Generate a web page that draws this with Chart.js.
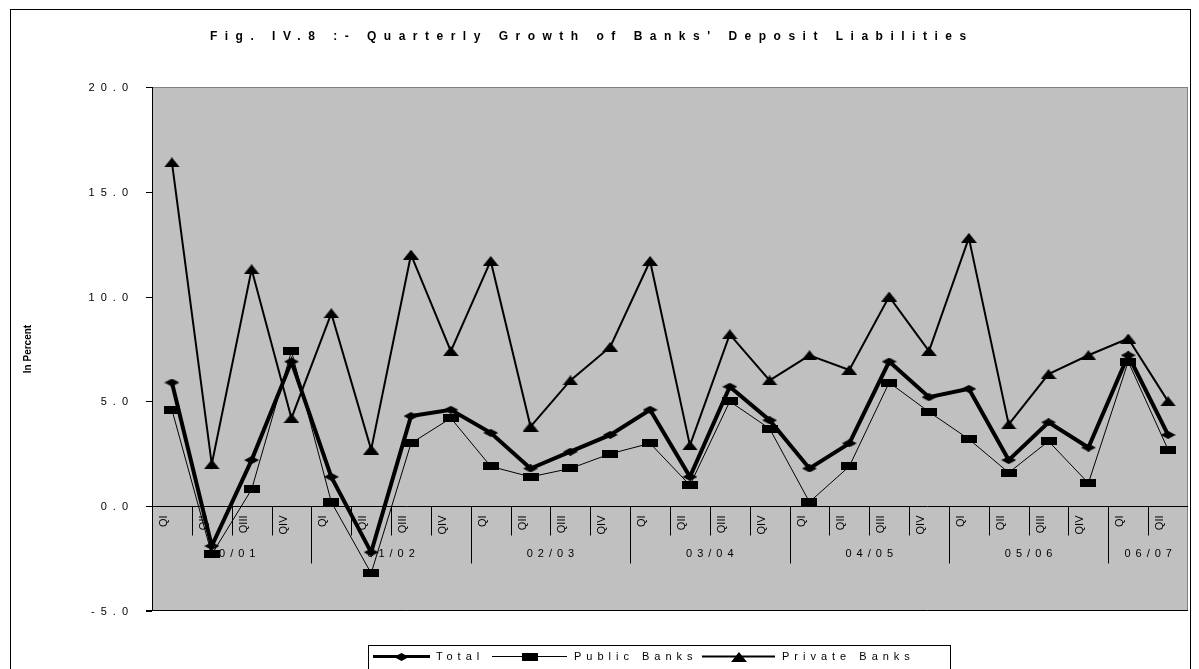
<!DOCTYPE html>
<html>
<head>
<meta charset="utf-8">
<title>Quarterly Growth of Banks' Deposit Liabilities</title>
<script src="https://cdn.jsdelivr.net/npm/chart.js@4.4.1/dist/chart.umd.min.js"></script>
<style>
  html, body { margin: 0; padding: 0; background: #ffffff; }
  canvas { display: block; }
</style>
</head>
<body>
<canvas id="chart" width="1199" height="669" style="width:1199px;height:669px"></canvas>
<script>
// Quarter labels along the category axis
const quarters = [
  'QI','QII','QIII','QIV',
  'QI','QII','QIII','QIV',
  'QI','QII','QIII','QIV',
  'QI','QII','QIII','QIV',
  'QI','QII','QIII','QIV',
  'QI','QII','QIII','QIV',
  'QI','QII'
];
// Fiscal years grouping the quarters, and how many quarters each spans
const years = ['00/01','01/02','02/03','03/04','04/05','05/06','06/07'];
const yearSpans = [4, 4, 4, 4, 4, 4, 2];

// Quarterly growth of deposit liabilities, in percent
const total = [5.9, -1.9, 2.2, 6.9, 1.4, -2.2, 4.3, 4.6, 3.5, 1.8, 2.6, 3.4, 4.6,
               1.4, 5.7, 4.1, 1.8, 3.0, 6.9, 5.2, 5.6, 2.2, 4.0, 2.8, 7.2, 3.4];
const publicBanks = [4.6, -2.3, 0.8, 7.4, 0.2, -3.2, 3.0, 4.2, 1.9, 1.4, 1.8, 2.5, 3.0,
                     1.0, 5.0, 3.7, 0.2, 1.9, 5.9, 4.5, 3.2, 1.6, 3.1, 1.1, 6.9, 2.7];
const privateBanks = [16.4, 2.0, 11.3, 4.2, 9.2, 2.7, 12.0, 7.4, 11.7, 3.8, 6.0, 7.6, 11.7,
                      2.9, 8.2, 6.0, 7.2, 6.5, 10.0, 7.4, 12.8, 3.9, 6.3, 7.2, 8.0, 5.0];

// Value axis ticks
const yTicks = [-5, 0, 5, 10, 15, 20];

const seriesNames = ['Total', 'Public Banks', 'Private Banks'];
const titleText = "Fig. IV.8 :- Quarterly Growth of Banks' Deposit Liabilities";
const axisTitle = 'In Percent';

// Marker shapes drawn once onto small canvases
function markerCanvas(w, h, drawFn) {
  const c = document.createElement('canvas');
  c.width = w; c.height = h;
  const g = c.getContext('2d');
  g.fillStyle = '#000';
  drawFn(g, w, h);
  return c;
}
const diamond = markerCanvas(15, 8, (g, w, h) => {
  g.beginPath(); g.moveTo(w / 2, 0); g.lineTo(w, h / 2); g.lineTo(w / 2, h); g.lineTo(0, h / 2);
  g.closePath(); g.fill();
});
const block = markerCanvas(16, 8, (g, w, h) => { g.fillRect(0, 0, w, h); });
const triangle = markerCanvas(16, 10, (g, w, h) => {
  g.beginPath(); g.moveTo(w / 2, 0); g.lineTo(w, h); g.lineTo(0, h); g.closePath(); g.fill();
});

const FONT = '"Liberation Sans", Arial, sans-serif';

// Text with wide tracking; x is the left, centre or right end of the glyphs
function spacedText(ctx, text, x, y, spacing, align) {
  ctx.save();
  ctx.letterSpacing = spacing + 'px';
  const w = ctx.measureText(text).width;
  let sx = x;
  if (align === 'center') sx = x - (w - spacing) / 2;
  else if (align === 'right') sx = x - (w - spacing);
  ctx.textAlign = 'left';
  ctx.fillText(text, sx, y);
  ctx.restore();
}

const frame = {
  id: 'frame',
  beforeDraw(chart) {
    const { ctx, chartArea: a } = chart;
    ctx.save();
    ctx.fillStyle = '#ffffff';
    ctx.fillRect(0, 0, chart.width, chart.height);
    // outer chart border
    ctx.strokeStyle = '#000';
    ctx.lineWidth = 1;
    ctx.strokeRect(10.5, 9.5, 1180, 700);
    // plot area
    ctx.fillStyle = '#c0c0c0';
    ctx.fillRect(a.left, a.top, a.right - a.left, a.bottom - a.top);
    ctx.strokeStyle = '#808080';
    ctx.strokeRect(a.left + 0.5, a.top + 0.5, a.right - a.left - 1, a.bottom - a.top - 1);
    ctx.restore();
  },
  beforeDatasetsDraw(chart) {
    const { ctx, chartArea: a, scales: { x, y } } = chart;
    ctx.save();
    const y0 = Math.round(y.getPixelForValue(0)) + 0.5;
    // value axis line, ticks and labels
    ctx.strokeStyle = '#000';
    ctx.lineWidth = 1;
    ctx.beginPath();
    ctx.moveTo(a.left + 0.5, a.top); ctx.lineTo(a.left + 0.5, a.bottom);
    ctx.moveTo(a.left - 6, a.bottom - 0.5); ctx.lineTo(a.right, a.bottom - 0.5);
    ctx.stroke();
    ctx.fillStyle = '#000';
    ctx.font = '11px ' + FONT;
    ctx.textBaseline = 'middle';
    yTicks.forEach(v => {
      const py = Math.round(y.getPixelForValue(v)) + 0.5;
      ctx.beginPath(); ctx.moveTo(a.left - 6, py); ctx.lineTo(a.left, py); ctx.stroke();
      spacedText(ctx, v.toFixed(1), a.left - 24, py, 6, 'right');
    });
    // category axis along zero
    ctx.beginPath(); ctx.moveTo(a.left - 6, y0); ctx.lineTo(a.right, y0); ctx.stroke();
    const half = (x.getPixelForValue(1) - x.getPixelForValue(0)) / 2;
    let idx = 0;
    years.forEach((yr, gi) => {
      const startX = x.getPixelForValue(idx) - half;
      for (let k = 0; k < yearSpans[gi]; k++) {
        const i = idx + k;
        const left = Math.round(x.getPixelForValue(i) - half) + 0.5;
        const long = (k === 0);
        if (i > 0) {
          ctx.beginPath(); ctx.moveTo(left, y0); ctx.lineTo(left, y0 + (long ? 57 : 29)); ctx.stroke();
        }
        // quarter label, rotated to read upward
        ctx.save();
        ctx.translate(left + 11, y0 + 9);
        ctx.rotate(-Math.PI / 2);
        ctx.font = '11px ' + FONT;
        ctx.textAlign = 'right';
        ctx.textBaseline = 'middle';
        ctx.fillText(quarters[i], 0, 0);
        ctx.restore();
      }
      idx += yearSpans[gi];
      const endX = x.getPixelForValue(idx - 1) + half;
      ctx.font = '11px ' + FONT;
      ctx.textBaseline = 'middle';
      spacedText(ctx, yr, (startX + endX) / 2, y0 + 47, 5, 'center');
    });
    ctx.restore();
  },
  afterDraw(chart) {
    const { ctx, chartArea: a } = chart;
    ctx.save();
    ctx.fillStyle = '#000';
    // title
    ctx.font = 'bold 12px ' + FONT;
    ctx.textBaseline = 'middle';
    spacedText(ctx, titleText, 588, 37, 7.5, 'center');
    // value axis title
    ctx.save();
    ctx.translate(28, (a.top + a.bottom) / 2);
    ctx.rotate(-Math.PI / 2);
    ctx.font = 'bold 10px ' + FONT;
    ctx.textAlign = 'center';
    ctx.textBaseline = 'middle';
    ctx.fillText(axisTitle, 0, 0);
    ctx.restore();
    // legend
    const ly = 656.5;
    ctx.strokeStyle = '#000';
    ctx.lineWidth = 1;
    ctx.strokeRect(368.5, 645.5, 582, 40);
    const entries = [
      { x0: 373, x1: 430, mk: diamond, lw: 3, tx: 436 },
      { x0: 492, x1: 567, mk: block, lw: 1, tx: 574 },
      { x0: 702, x1: 775, mk: triangle, lw: 2, tx: 782 }
    ];
    ctx.font = '11px ' + FONT;
    ctx.textBaseline = 'middle';
    entries.forEach((e, i) => {
      ctx.lineWidth = e.lw;
      ctx.beginPath(); ctx.moveTo(e.x0, ly); ctx.lineTo(e.x1, ly); ctx.stroke();
      const cx = (e.x0 + e.x1) / 2;
      ctx.drawImage(e.mk, Math.round(cx - e.mk.width / 2), Math.round(ly - e.mk.height / 2));
      spacedText(ctx, seriesNames[i], e.tx, ly, 5, 'left');
    });
    ctx.restore();
  }
};

new Chart(document.getElementById('chart'), {
  type: 'line',
  data: {
    labels: quarters,
    datasets: [
      { label: seriesNames[0], data: total, borderColor: '#000', backgroundColor: '#000',
        borderWidth: 4, pointStyle: diamond, pointRadius: 7, tension: 0, order: 3 },
      { label: seriesNames[1], data: publicBanks, borderColor: '#000', backgroundColor: '#000',
        borderWidth: 1, pointStyle: block, pointRadius: 7, tension: 0, order: 2 },
      { label: seriesNames[2], data: privateBanks, borderColor: '#000', backgroundColor: '#000',
        borderWidth: 2, pointStyle: triangle, pointRadius: 7, tension: 0, order: 1 }
    ]
  },
  options: {
    responsive: false,
    animation: false,
    devicePixelRatio: 1,
    layout: { padding: { left: 152, top: 87, right: 11, bottom: 58 } },
    plugins: { legend: { display: false }, title: { display: false }, tooltip: { enabled: false } },
    scales: {
      x: { type: 'category', offset: true, display: false },
      y: { min: -5, max: 20, display: false }
    }
  },
  plugins: [frame]
});
</script>
</body>
</html>
